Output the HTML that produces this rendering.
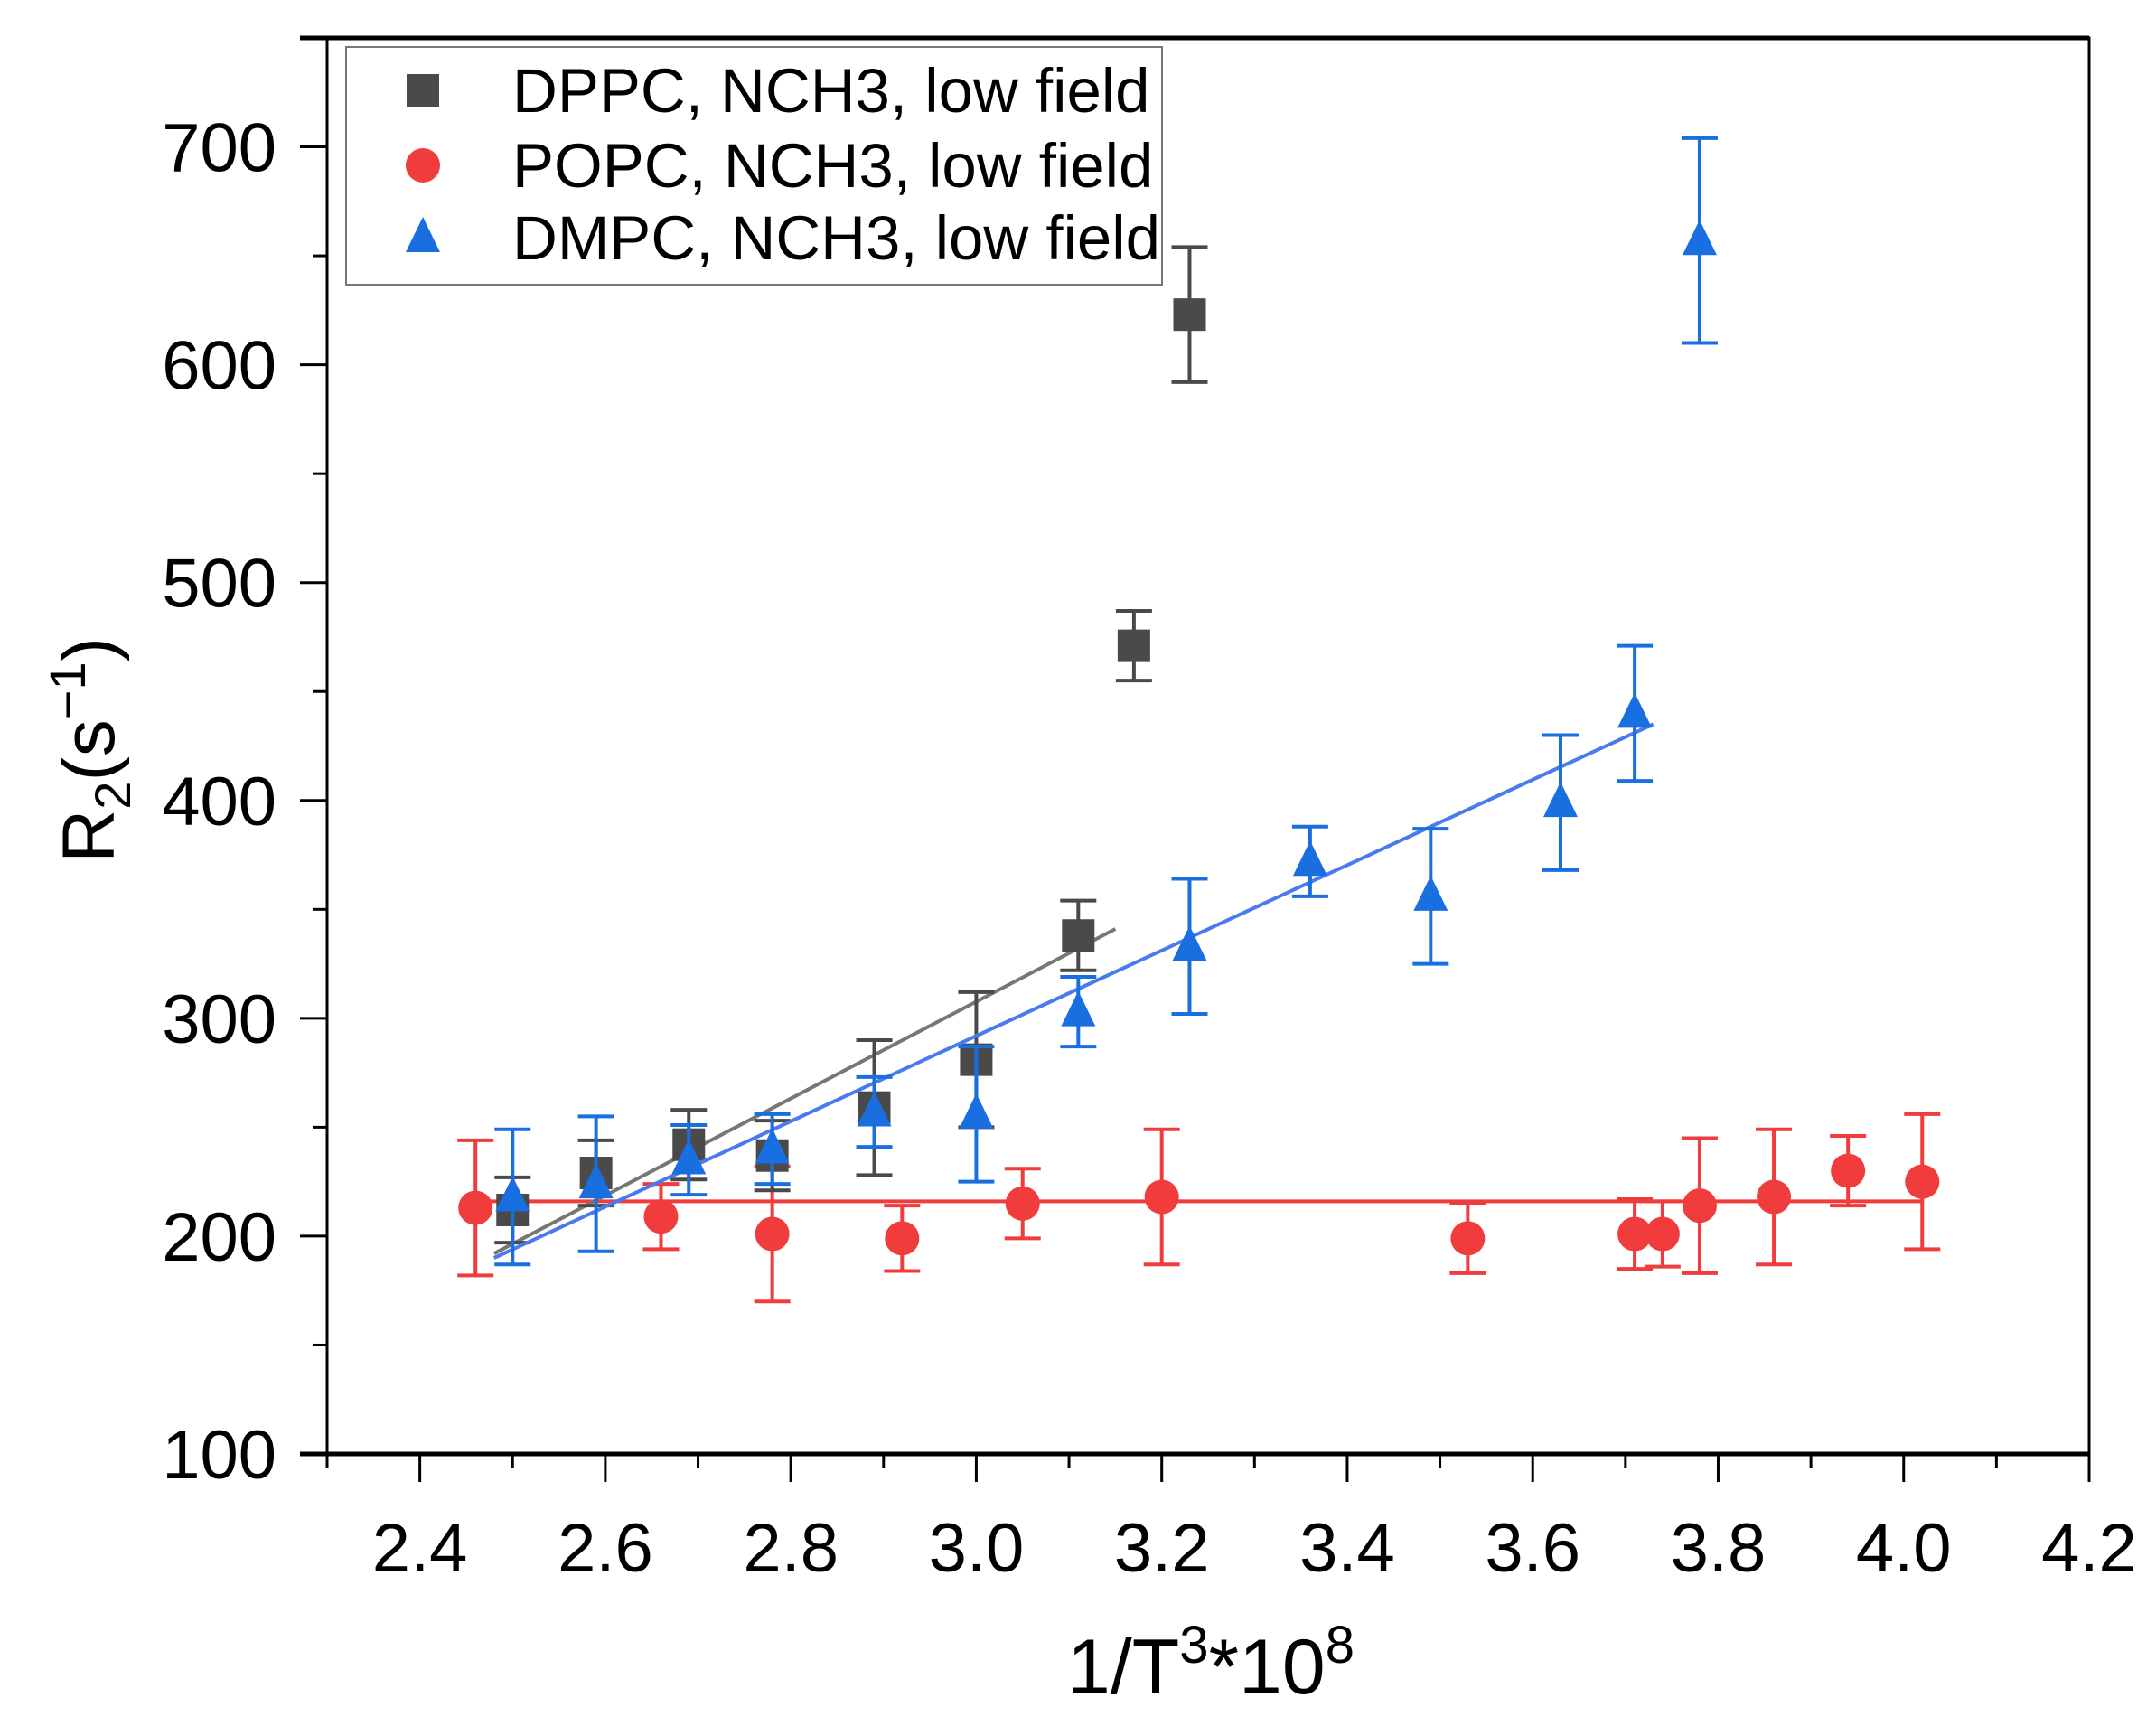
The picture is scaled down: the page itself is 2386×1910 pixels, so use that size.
<!DOCTYPE html>
<html><head><meta charset="utf-8"><style>
html,body{margin:0;padding:0;background:#fff;}
svg{display:block;font-family:"Liberation Sans",Arial,sans-serif;}
</style></head><body>
<svg id="chart" width="2386" height="1910" viewBox="0 0 2386 1910"></svg>
<script>
const xTicks=[2.4,2.6,2.8,3.0,3.2,3.4,3.6,3.8,4.0,4.2];
const xTickLabels=["2.4","2.6","2.8","3.0","3.2","3.4","3.6","3.8","4.0","4.2"];
const yTicks=[100,200,300,400,500,600,700];
const yTickLabels=["100","200","300","400","500","600","700"];
const dppcX=[2.50,2.59,2.69,2.78,2.89,3.00,3.11,3.17,3.23];
const dppcY=[212,229,242,237,259,281,338,471,623];
const dppcErr=[15,15,16,16,31,31,16,16,31];
const popcX=[2.46,2.66,2.78,2.92,3.05,3.20,3.53,3.71,3.74,3.78,3.86,3.94,4.02];
const popcY=[213,209,201,199,215,218,199,201,201,214,218,230,225];
const popcErr=[31,15,31,15,16,31,16,16,15,31,31,16,31];
const dmpcX=[2.50,2.59,2.69,2.78,2.89,3.00,3.11,3.23,3.36,3.49,3.63,3.71,3.78];
const dmpcY=[218,224,235,240,257,256,303,333,372,356,399,440,657];
const dmpcErr=[31,31,16,16,16,31,16,31,16,31,31,31,47];
const dppcFitX=[2.48,3.15];const dppcFitY=[192,341];
const popcFitX=[2.46,4.02];const popcFitY=[216,216];
const dmpcFitX=[2.48,3.73];const dmpcFitY=[190,435];

const NS="http://www.w3.org/2000/svg";
const svg=document.getElementById('chart');
const L=362,R=2312,T=42,B=1609;
const xMin=2.3,xMax=4.2,yMin=100,yMax=750;
const sx=v=>L+(v-xMin)/(xMax-xMin)*(R-L);
const sy=v=>B-(v-yMin)/(yMax-yMin)*(B-T);
function mk(tag,attrs,parent){const e=document.createElementNS(NS,tag);for(const k in attrs)e.setAttribute(k,attrs[k]);(parent||svg).appendChild(e);return e;}

const axes=mk('g',{});


mk('rect',{x:L,y:T,width:R-L,height:B-T,fill:'none',stroke:'#000','stroke-width':3},axes);
mk('line',{x1:L-30,y1:B,x2:R,y2:B,stroke:'#000','stroke-width':5},axes);
mk('line',{x1:L-30,y1:T,x2:R,y2:T,stroke:'#000','stroke-width':5},axes);
for(let v=2.3;v<=4.2001;v+=0.1){const x=sx(v);const maj=Math.abs(Math.round(v*10)%2)==0;mk('line',{x1:x,y1:B,x2:x,y2:B+(maj?31:16),stroke:'#000','stroke-width':3},axes);}
for(let v=100;v<=750;v+=50){const y=sy(v);const maj=v%100==0;mk('line',{x1:L,y1:y,x2:L-(maj?30:16),y2:y,stroke:'#000','stroke-width':3},axes);}
xTicks.forEach((v,i)=>{const t=mk('text',{x:sx(v),y:B+130,'font-size':76,'text-anchor':'middle'},axes);t.textContent=xTickLabels[i];

});
yTicks.forEach((v,i)=>{const t=mk('text',{x:306,y:sy(v)+27,'font-size':76,'text-anchor':'end'},axes);t.textContent=yTickLabels[i];

});

const xt=mk('text',{x:1340,y:1874,'font-size':86,'text-anchor':'middle'});
xt.innerHTML='1/T<tspan dy="-34" font-size="58">3</tspan><tspan dy="34">*10</tspan><tspan dy="-34" font-size="58">8</tspan>';


const yt=mk('text',{x:0,y:0,'font-size':82,'text-anchor':'middle',transform:'translate(126,830) rotate(-90)'});
yt.innerHTML='R<tspan dy="18" font-size="56">2</tspan><tspan dy="-18">(s</tspan><tspan dy="-32" font-size="56">−1</tspan><tspan dy="32">)</tspan>';



function marker(shape,x,y,color,g){
  if(shape=='sq')return mk('rect',{x:x-18,y:y-18,width:36,height:36,fill:color},g);
  if(shape=='ci')return mk('circle',{cx:x,cy:y,r:19,fill:color},g);
  return mk('polygon',{points:`${x},${y-23} ${x+19},${y+16} ${x-19},${y+16}`,fill:color},g);
}
function series(name,xs,ys,es,fx,fy,color,lineColor,shape){
  const g=mk('g',{});
  
  
  mk('line',{x1:sx(fx[0]),y1:sy(fy[0]),x2:sx(fx[1]),y2:sy(fy[1]),stroke:lineColor,'stroke-width':4},g);
  xs.forEach((v,i)=>{
    const x=sx(v),y1=sy(ys[i]-es[i]),y2=sy(ys[i]+es[i]);
    mk('line',{x1:x,y1:y1,x2:x,y2:y2,stroke:color,'stroke-width':4},g);
    mk('line',{x1:x-20,y1:y1,x2:x+20,y2:y1,stroke:color,'stroke-width':4},g);
    mk('line',{x1:x-20,y1:y2,x2:x+20,y2:y2,stroke:color,'stroke-width':4},g);
    const m=marker(shape,x,sy(ys[i]),color,g);
    
    
  });
}
series('popc',popcX,popcY,popcErr,popcFitX,popcFitY,'#f03c3c','#f03c3c','ci');
series('dppc',dppcX,dppcY,dppcErr,dppcFitX,dppcFitY,'#4a4a4a','#777','sq');
series('dmpc',dmpcX,dmpcY,dmpcErr,dmpcFitX,dmpcFitY,'#1a6fe0','#4a7af0','tr');

const lg=mk('g',{});


mk('rect',{x:383,y:52,width:903,height:263,fill:'#fff',stroke:'#777','stroke-width':2},lg);
const items=[['sq','#4a4a4a','DPPC, NCH3, low field',100],['ci','#f03c3c','POPC, NCH3, low field',183],['tr','#1a6fe0','DMPC, NCH3, low field',263]];
items.forEach(it=>{
  const e=mk('g',{},lg);
  
  
  marker(it[0],468,it[3],it[1],e);
  const t=mk('text',{x:567,y:it[3]+24,'font-size':69},e);t.textContent=it[2];
});
</script>
</body></html>
